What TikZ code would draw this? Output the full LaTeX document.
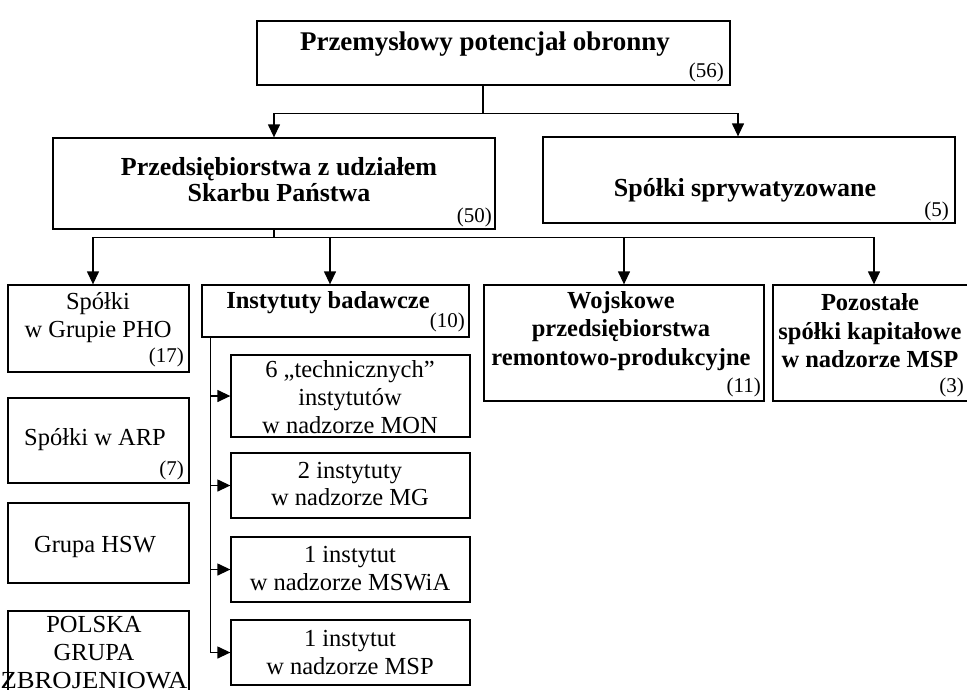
\documentclass[tikz,border=0pt]{standalone}
\usepackage{fontspec}
\setmainfont{Liberation Serif}
\usetikzlibrary{arrows.meta,fit}
\tikzset{
  box/.style={draw=black, line width=1.3pt, inner sep=0pt, fill=white},
  conn/.style={draw=black, line width=1.3pt},
  arr/.style={conn, -{Triangle[length=13pt,width=12pt]}},
  ttl/.style={font=\fontsize{27}{31}\selectfont\bfseries, inner sep=0pt, align=center},
  hb/.style={font=\fontsize{26}{26}\selectfont\bfseries, inner sep=0pt, align=center},
  bt/.style={font=\fontsize{24.5}{28.5}\selectfont\bfseries, inner sep=0pt, align=center},
  nt/.style={font=\fontsize{24.5}{28}\selectfont, inner sep=0pt, align=center},
  cnt/.style={font=\fontsize{21}{24}\selectfont, inner sep=0pt, anchor=east}
}
\begin{document}
\begin{tikzpicture}[x=1pt,y=-1pt]
\useasboundingbox (0,0) rectangle (967,689);
\clip (0,0) rectangle (967,689);
\fill[white] (0,0) rectangle (967,689);
% boxes
\node[box, fit={(257,21)(730,85)}] (top) {};
\node[box, fit={(53,138)(495,229)}] (psp) {};
\node[box, fit={(543,137)(955,223)}] (spr) {};
\node[box, fit={(8,285)(189,372)}] (pho) {};
\node[box, fit={(202,285)(469,337)}] (ib) {};
\node[box, fit={(484,285)(764,401)}] (wpr) {};
\node[box, fit={(773,285)(980,401)}] (poz) {};
\node[box, fit={(8,398)(189,483)}] (arp) {};
\node[box, fit={(8,503)(189,583)}] (hsw) {};
\node[box, fit={(8,611)(189,705)}] (pgz) {};
\node[box, fit={(231,355)(470,437)}] (m1) {};
\node[box, fit={(231,453)(470,518)}] (m2) {};
\node[box, fit={(231,537)(470,602)}] (m3) {};
\node[box, fit={(231,620)(470,685)}] (m4) {};
% texts
\node[ttl] (topT) at (485,44) {Przemysłowy potencjał obronny};
\node[cnt] (topC) at (724,72) {(56)};
\node[hb] (pspT) at (279,180) {Przedsiębiorstwa z udziałem\\[0pt]Skarbu Państwa};
\node[cnt] (pspC) at (492,217) {(50)};
\node[hb] (sprT) at (745,190) {Spółki sprywatyzowane};
\node[cnt] (sprC) at (949,211) {(5)};
\node[nt] (phoT) at (98,318) {Spółki\\w Grupie PHO};
\node[cnt] (phoC) at (184,357) {(17)};
\node[bt] (ibT) at (328,303) {Instytuty badawcze};
\node[cnt] (ibC) at (465,322) {(10)};
\node[bt] (wprT) at (621,331) {Wojskowe\\przedsiębiorstwa\\remontowo-produkcyjne};
\node[cnt] (wprC) at (761,387) {(11)};
\node[bt] (pozT) at (870,331) {Pozostałe\\spółki kapitałowe\\w nadzorze MSP};
\node[cnt] (pozC) at (964,387) {(3)};
\node[nt] (arpT) at (95,440) {Spółki w ARP};
\node[cnt] (arpC) at (184,470) {(7)};
\node[nt] (hswT) at (95,547) {Grupa HSW};
\node[nt] (pgzT) at (94,653) {POLSKA\\GRUPA\\\scalebox{1.09}[1]{ZBROJENIOWA}};
\node[nt] (m1T) at (350,397) {6 „technicznych”\\instytutów\\w nadzorze MON};
\node[nt] (m2T) at (350,484) {2 instytuty\\w nadzorze MG};
\node[nt] (m3T) at (350,569) {1 instytut\\w nadzorze MSWiA};
\node[nt] (m4T) at (350,652) {1 instytut\\w nadzorze MSP};
% connectors level 1
\coordinate (j1) at ([xshift=-10.5pt,yshift=-28pt]top.south);
\draw[conn] (j1 |- top.south) -- (j1);
\draw[arr] (j1) -| (psp.north);
\draw[arr] (j1) -| ([xshift=-11pt]spr.north);
% connectors level 2
\coordinate (j2) at ([yshift=-8pt]psp.south);
\draw[conn] (psp.south) -- (j2);
\draw[arr] (j2) -| ([xshift=-5.5pt]pho.north);
\draw[arr] (j2) -| ([xshift=-5.5pt]ib.north);
\draw[arr] (j2) -| (wpr.north);
\draw[arr] (j2) -| ([xshift=-2.5pt]poz.north);
% connectors level 3
\coordinate (t0) at ([xshift=9pt]ib.south west);
\draw[conn] (t0) -- (t0 |- m4.west);
\foreach \m in {m1,m2,m3,m4}{
  \draw[arr] (t0 |- \m.west) -- (\m.west);
}
\end{tikzpicture}
\end{document}
